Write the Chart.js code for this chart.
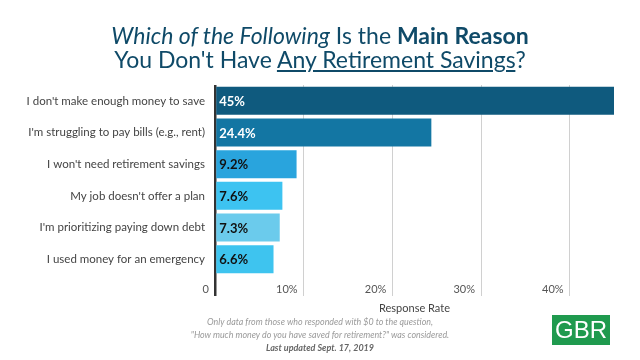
<!DOCTYPE html>
<html>
<head>
<meta charset="utf-8">
<script src="https://cdn.jsdelivr.net/npm/chart.js@4/dist/chart.umd.min.js"></script>
<style>
  html, body { margin: 0; padding: 0; background: #fff; }
  #wrap { position: relative; width: 640px; height: 360px; overflow: hidden; font-family: Lato, "Noto Sans", sans-serif; }
  #chart { position: absolute; left: 0; top: 0; }
  .title { position: absolute; left: 0; width: 640px; text-align: center; color: #0f4a68; font-size: 23px; line-height: 26px; white-space: nowrap; }
  .note { position: absolute; left: 0; width: 640px; text-align: center; color: #9a9a9a; font-size: 8.9px; font-style: italic; white-space: nowrap; }
  #logo { position: absolute; left: 552px; top: 315px; width: 58px; height: 30px; background: #1f9a4e; color: #fff; font-family: "Liberation Sans", Arial, sans-serif; font-size: 24px; line-height: 30px; text-align: center; }
</style>
</head>
<body>
<div id="wrap">
  <canvas id="chart" width="640" height="360"></canvas>
  <div class="title" style="top:22px;"><i>Which of the Following</i> Is the <b>Main Reason</b></div>
  <div class="title" style="top:46px;">You Don't Have <u>Any Retirement Savings</u>?</div>
  <div class="note" style="top:316px;">Only data from those who responded with $0 to the question,</div>
  <div class="note" style="top:329px;">"How much money do you have saved for retirement?" was considered.</div>
  <div class="note" style="top:342px; color:#666; font-weight:bold; font-size:9px;">Last updated Sept. 17, 2019</div>
  <div id="logo">GBR</div>
</div>
<script>
const categories = [
  "I don't make enough money to save",
  "I'm struggling to pay bills (e.g., rent)",
  "I won't need retirement savings",
  "My job doesn't offer a plan",
  "I'm prioritizing paying down debt",
  "I used money for an emergency"
];
const values = [45, 24.4, 9.2, 7.6, 7.3, 6.6];
const valueLabels = ["45%", "24.4%", "9.2%", "7.6%", "7.3%", "6.6%"];
const barColors = ["#0f5a7e", "#1376a3", "#29a4dd", "#3dc3f1", "#6bcbec", "#3ec4ef"];
const labelColors = ["#ffffff", "#ffffff", "#111111", "#111111", "#111111", "#111111"];
const xTickValues = [0, 10, 20, 30, 40];
const xTickLabels = ["0", "10%", "20%", "30%", "40%"];
const axisTitle = "Response Rate";

const valueLabelPlugin = {
  id: 'valueLabels',
  afterDatasetsDraw(chart) {
    const ctx = chart.ctx;
    const meta = chart.getDatasetMeta(0);
    ctx.save();
    ctx.font = "bold 13px Lato, 'Noto Sans', sans-serif";
    ctx.textAlign = 'left';
    ctx.textBaseline = 'middle';
    meta.data.forEach((bar, i) => {
      ctx.fillStyle = labelColors[i];
      ctx.fillText(valueLabels[i], bar.base + 3, bar.y + 1);
    });
    ctx.restore();
  }
};

new Chart(document.getElementById('chart'), {
  type: 'bar',
  data: {
    labels: categories,
    datasets: [{
      data: values,
      backgroundColor: barColors,
      borderWidth: 0,
      barPercentage: 0.95,
      categoryPercentage: 0.93
    }]
  },
  options: {
    indexAxis: 'y',
    responsive: false,
    animation: false,
    layout: { padding: { top: 85, left: 0, right: 26, bottom: 45 } },
    plugins: { legend: { display: false }, tooltip: { enabled: false } },
    scales: {
      x: {
        min: 0, max: 45,
        afterBuildTicks(scale) { scale.ticks = xTickValues.map(v => ({ value: v })); },
        afterFit(scale) { scale.height = 40; },
        border: { display: false },
        grid: {
          drawTicks: true,
          tickLength: 21,
          color: ctx => (ctx.tick && ctx.tick.value === 0) ? '#333333' : '#d0d0d0',
          lineWidth: ctx => (ctx.tick && ctx.tick.value === 0) ? 2.5 : 1
        },
        ticks: {
          callback: (v, i) => xTickLabels[i],
          align: 'end',
          labelOffset: -6,
          padding: -13,
          maxRotation: 0,
          color: '#555555',
          font: { family: "Lato, 'Noto Sans', sans-serif", size: 11 }
        },
        title: {
          display: true,
          text: axisTitle,
          color: '#444444',
          padding: { top: 0, bottom: 0 },
          font: { family: "Lato, 'Noto Sans', sans-serif", size: 11 }
        }
      },
      y: {
        afterFit(scale) { scale.width = 215; },
        border: { display: false },
        grid: { display: false },
        ticks: {
          padding: 2,
          color: '#444444',
          font: { family: "Lato, 'Noto Sans', sans-serif", size: 11.5 }
        }
      }
    }
  },
  plugins: [valueLabelPlugin]
});
</script>
</body>
</html>
